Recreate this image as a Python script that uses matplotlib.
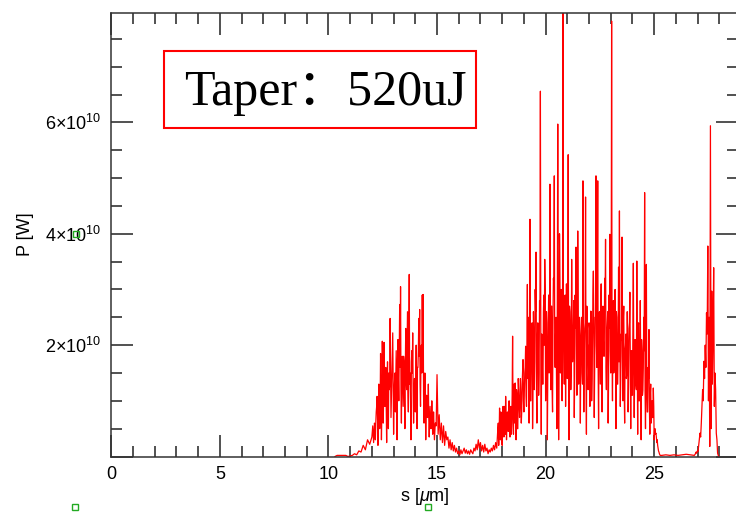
import numpy as np
import matplotlib
matplotlib.use("Agg")
import matplotlib.pyplot as plt
from matplotlib.patches import Rectangle
from matplotlib.lines import Line2D
from matplotlib.ticker import MultipleLocator, FixedLocator, FuncFormatter

plt.rcParams['font.family'] = ['Liberation Sans Narrow', 'Liberation Sans', 'DejaVu Sans']
plt.rcParams['mathtext.fontset'] = 'custom'
plt.rcParams['mathtext.rm'] = 'Liberation Sans'
plt.rcParams['mathtext.it'] = 'Liberation Sans:italic'

# power profile P(s), values in units of 1e10 W
# (start, end) in um for each segment; points are spread evenly inside it
seg_rise = (10.3, 11.9)
p_rise = [0.0, 0.02, 0.02, 0.02, 0.02, 0.02, 0.0, 0.01, 0.02, 0.05,
          0.03, 0.1, 0.08, 0.2, 0.12, 0.3, 0.22]

seg_first = (12.0, 14.96)
p_first = [0.35, 0.55, 0.25, 0.6, 0.3, 0.8, 1.08, 0.2, 1.3, 0.5,
           1.85, 0.3, 2.07, 0.6, 2.05, 0.9, 1.6, 0.25, 1.7, 0.5,
           1.2, 2.48, 0.7, 1.5, 2.22, 0.4, 1.3, 0.8, 1.9, 0.3,
           2.1, 1.0, 2.73, 3.05, 0.6, 1.8, 0.9, 1.71, 0.5, 2.3,
           1.2, 2.6, 0.8, 3.27, 1.5, 0.3, 1.9, 2.22, 0.6, 1.4,
           0.8, 2.0, 0.5, 1.6, 2.48, 2.64, 0.9, 2.0, 2.9, 2.91,
           0.6, 1.5, 0.3, 1.1, 0.7, 1.3, 0.35, 0.9, 0.5, 1.0,
           0.4, 0.8, 0.3, 0.6, 0.55]
# in-between samples of the same bunch (the dense band)
seg_first_mid = (12.02, 14.94)
p_first_mid = [0.45, 0.4, 0.45, 0.5, 0.6, 0.9, 0.7, 0.8, 1.0, 0.9,
               1.2, 0.8, 1.4, 1.0, 1.3, 1.1, 0.9, 1.2, 1.0, 1.5,
               1.3, 1.6, 1.1, 1.8, 1.2, 1.0, 1.5, 1.3, 1.1, 1.7,
               1.4, 1.9, 1.6, 1.2, 1.5, 1.3, 1.8, 1.1, 1.6, 1.4,
               1.9, 1.2, 2.0, 1.3, 1.0, 1.7, 1.5, 1.2, 1.0, 1.4,
               1.3, 1.1, 1.6, 1.9, 1.8, 1.3, 1.7, 1.5, 1.6, 1.1,
               0.9, 1.0, 0.8, 0.9, 0.8, 0.7, 0.6, 0.7, 0.6, 0.65,
               0.5, 0.55, 0.45, 0.6]

seg_gap = (15.0, 17.75)
p_gap = [1.47, 0.4, 0.75, 0.3, 0.6, 0.25, 0.55, 0.2, 0.45, 0.3,
         0.35, 0.15, 0.3, 0.12, 0.25, 0.1, 0.2, 0.08, 0.15, 0.05,
         0.1, 0.03, 0.12, 0.05, 0.1, 0.15, 0.06, 0.12, 0.05, 0.1,
         0.04, 0.12, 0.08, 0.05, 0.15, 0.1, 0.22, 0.12, 0.3, 0.15,
         0.25, 0.1, 0.2, 0.08, 0.22, 0.1, 0.15, 0.05, 0.12, 0.08,
         0.15, 0.1, 0.2, 0.12, 0.25, 0.15]

seg_main = (17.8, 25.28)
p_main = [0.5, 0.2, 0.87, 0.3, 0.6, 0.2, 0.9, 0.35, 0.7, 1.08,
          0.3, 0.8, 0.45, 1.0, 0.35, 0.9, 0.6, 2.16, 0.4, 0.9,
          1.32, 0.3, 1.1, 0.5, 1.2, 0.7, 1.4, 0.6, 1.3, 1.74,
          0.8, 1.5, 1.98, 0.9, 3.09, 2.5, 0.6, 4.26, 1.0, 2.2,
          0.5, 2.6, 1.2, 3.0, 3.67, 0.6, 2.4, 1.1, 2.8, 6.56,
          0.4, 2.0, 1.3, 2.9, 3.54, 1.0, 2.6, 0.3, 2.2, 1.5,
          4.89, 1.2, 2.7, 0.8, 3.2, 5.04, 1.6, 2.5, 0.5, 5.97,
          0.3, 4.0, 1.5, 3.0, 1.0, 7.97, 1.8, 2.8, 0.9, 3.1,
          1.4, 5.42, 0.3, 2.6, 1.2, 3.54, 1.7, 2.4, 0.7, 2.9,
          3.76, 1.1, 4.05, 1.3, 2.5, 0.6, 2.2, 1.5, 4.95, 0.8,
          2.3, 4.66, 0.4, 2.0, 1.2, 2.4, 0.9, 2.61, 1.0, 2.2,
          3.33, 0.7, 2.5, 5.04, 1.6, 4.95, 0.5, 2.6, 1.3, 3.1,
          0.8, 2.7, 1.8, 3.2, 3.9, 1.2, 2.4, 0.6, 2.9, 3.99,
          1.5, 7.82, 1.0, 2.8, 1.6, 3.0, 0.5, 2.5, 1.3, 3.4,
          4.41, 0.9, 2.2, 3.94, 1.0, 2.7, 0.6, 2.0, 1.4, 2.6,
          0.8, 2.3, 2.95, 0.5, 1.9, 1.1, 3.47, 0.7, 2.1, 1.3,
          3.51, 0.4, 2.4, 1.0, 2.8, 0.3, 1.9, 1.2, 2.5, 4.74,
          0.5, 3.45, 0.8, 1.6, 2.28, 0.4, 1.3, 0.7, 1.0, 1.23,
          0.3, 0.5, 0.42, 0.25, 0.2, 0.1, 0.05, 0.02]
seg_main_mid = (17.82, 25.26)
p_main_mid = [0.6, 0.4, 0.5, 0.8, 0.3, 0.6, 0.5, 0.9, 0.4, 0.7,
              0.6, 0.5, 0.9, 0.6, 0.8, 0.4,
              1.1, 0.7, 1.3, 0.6, 0.9, 1.2, 0.5, 1.4, 0.9, 1.0,
              1.1, 0.8, 1.5, 1.0, 1.2,
              1.6, 1.1, 2.0, 1.4, 1.8, 2.2, 1.0, 1.9, 2.4, 1.3,
              2.1, 1.7, 2.6, 1.2, 2.0,
              2.3, 1.5, 2.8, 1.9, 2.2, 1.3, 2.6, 2.0, 3.0, 1.7,
              2.4, 1.4, 2.9, 2.1, 1.8, 2.7, 1.2, 2.5, 3.1, 1.9,
              2.2, 1.6, 2.8, 2.3, 1.5, 3.2, 2.0, 1.7, 2.6, 2.4,
              1.3, 2.9, 2.1, 1.8, 2.5, 1.4, 2.7, 2.2, 1.6, 2.4,
              1.9, 2.8, 1.5, 2.3, 2.0, 1.7, 2.6, 1.4, 2.2, 1.9,
              2.5, 1.3, 2.1, 1.8, 2.4, 1.6, 2.7, 2.0, 1.5, 2.3,
              1.8, 2.6, 1.4, 2.9, 2.2, 1.7, 2.5, 2.0, 3.0, 1.6,
              2.3, 1.9, 2.7, 1.5, 2.4, 2.1, 1.8, 2.8, 1.6, 2.2,
              2.6, 1.4, 2.3, 1.9, 2.5,
              1.8, 2.4, 1.5, 2.2, 1.9, 2.6, 1.3, 2.0, 1.7, 2.3,
              1.4, 2.1, 1.8, 2.5, 1.2, 1.9, 2.2, 1.5, 2.0, 1.3,
              2.4, 1.6, 1.9, 1.1, 2.2, 1.7, 1.4, 2.0, 1.2, 1.8,
              2.3, 1.0, 1.7, 1.4, 2.1, 1.1, 1.6, 1.9, 1.2, 1.5,
              1.2, 0.8, 1.4, 0.9, 1.1, 0.6, 1.0, 0.7, 0.9, 0.5,
              0.4, 0.35, 0.3, 0.15, 0.08, 0.03]

seg_flat = (25.35, 26.85)
p_flat = [0.02, 0.03, 0.02, 0.03, 0.02, 0.03, 0.04, 0.03, 0.02]

seg_tail = (26.9, 27.98)
p_tail = [0.05, 0.08, 0.06, 0.1, 0.09, 0.2, 0.3, 0.42, 0.35, 0.6,
          0.9, 1.2, 1.0, 1.71, 1.4, 2.0, 1.6, 2.58, 2.2, 3.78,
          1.0, 2.5, 0.18, 5.94, 0.5, 2.97, 1.3, 2.2, 3.39, 0.9,
          1.5, 1.2, 0.42, 0.3, 0.06, 0.02, 0.0]

segments = [(seg_rise, p_rise), (seg_first, p_first), (seg_first_mid, p_first_mid),
            (seg_gap, p_gap), (seg_main, p_main), (seg_main_mid, p_main_mid),
            (seg_flat, p_flat), (seg_tail, p_tail)]

s_all = []
p_all = []
for (a, b), vals in segments:
    s_all.append(np.linspace(a, b, len(vals)))
    p_all.append(np.array(vals) * 1e10)
s = np.concatenate(s_all)
p = np.concatenate(p_all)
order = np.argsort(s, kind='stable')
s, p = s[order], p[order]

x_ticks = [0, 5, 10, 15, 20, 25]
y_ticks = [0, 2e10, 4e10, 6e10]
x_max = 28.86
y_max = 7.97e10

W, H = 736, 512
fig = plt.figure(figsize=(W / 100, H / 100), dpi=100)
ax = fig.add_axes([111.3 / W, (H - 456.5) / H, (738.0 - 111.3) / W, (456.5 - 12.7) / H])

ax.plot(s, p, color='#ff0000', lw=0.9)
ax.set_xlim(0, x_max)
ax.set_ylim(0, y_max)

ax.xaxis.set_major_locator(FixedLocator(x_ticks))
ax.xaxis.set_minor_locator(MultipleLocator(1))
ax.yaxis.set_major_locator(FixedLocator(y_ticks))
ax.yaxis.set_minor_locator(MultipleLocator(0.5e10))


def ylab(v, pos):
    if v == 0:
        return ''
    return r'$%d{\times}10^{10}$' % round(v / 1e10)


ax.yaxis.set_major_formatter(FuncFormatter(ylab))

ax.tick_params(which='both', direction='in', top=True, right=True,
               color='#222222', width=1.1, labelsize=13)
ax.tick_params(which='major', length=16, pad=7)
ax.tick_params(which='minor', length=8)
for sp in ax.spines.values():
    sp.set_color('#333333')
    sp.set_linewidth(1.1)

ax.set_xlabel(r's [$\mu$m]', fontsize=13, labelpad=2)
ax.set_ylabel('P [W]', fontsize=13, labelpad=8)

# annotation box
fig.add_artist(Rectangle((163.5 / W, (H - 128.3) / H), (475.7 - 163.5) / W, (128.3 - 50.7) / H,
                         transform=fig.transFigure, fill=False, edgecolor='#ff0000', lw=1.5))
fig.text(184 / W, (H - 105) / H, 'Taper：520uJ', fontsize=36, va='baseline', ha='left',
         family=['Liberation Serif', 'Noto Sans CJK SC', 'DejaVu Serif'])

# small green markers left over in the picture
for gx, gy in [(75, 507), (428, 507), (76, 234)]:
    fig.add_artist(Line2D([gx / W], [(H - gy) / H], transform=fig.transFigure, marker='s',
                          markersize=5, markerfacecolor='none', markeredgecolor='#22aa22',
                          markeredgewidth=1.0, linestyle='none'))

fig.savefig('out.png', dpi=100)
